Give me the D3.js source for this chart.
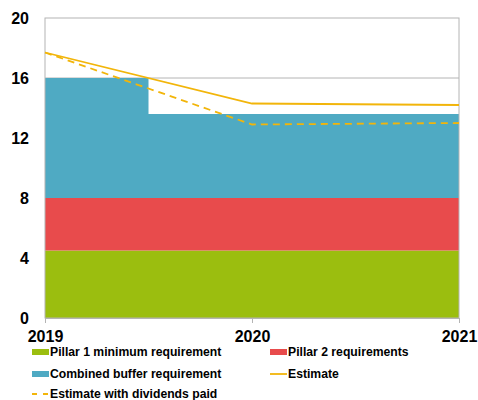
<!DOCTYPE html>
<html><head><meta charset="utf-8">
<script src="https://cdn.jsdelivr.net/npm/d3@7"></script>
<style>
body{margin:0;background:#fff;}
text{font-family:"Liberation Sans",Arial,sans-serif;font-weight:bold;fill:#000;}
</style></head>
<body><svg id="c" width="478" height="400"></svg>
<script>
const years = [2019, 2020, 2021];
const pillar1 = [4.5, 4.5, 4.5];
const pillar2 = [3.5, 3.5, 3.5];
const buffer = [8.0, 5.6, 5.6];
const estimate = [17.7, 14.3, 14.2];
const estimateDiv = [17.7, 12.9, 13.0];
const yTicks = [0, 4, 8, 12, 16, 20];
const seriesNames = ["Pillar 1 minimum requirement", "Pillar 2 requirements", "Combined buffer requirement", "Estimate", "Estimate with dividends paid"];
const colors = {p1:"#9bbe0f", p2:"#e84b4c", buf:"#4faac3", est:"#f2b50a"};

const svg = d3.select("#c");
const L=45, R=459, T=18, B=318;
const x = d3.scaleLinear().domain([2019,2021]).range([L,R]);
const y = d3.scaleLinear().domain([0,20]).range([B,T]);

const rows = years.map((yr,i)=>({yr, p1:pillar1[i], p2:pillar2[i], buf:buffer[i]}));
const stack = d3.stack().keys(["p1","p2","buf"])(rows);

// gridlines
svg.append("g").selectAll("line").data(yTicks.filter(t=>t>0 && t<20)).join("line")
  .attr("x1",L).attr("x2",R).attr("y1",d=>y(d)).attr("y2",d=>y(d))
  .attr("stroke","#b4b4b4").attr("stroke-width",1);

const area = d3.area().curve(d3.curveStep)
  .x(d=>x(d.data.yr)).y0(d=>y(d[0])).y1(d=>y(d[1]));
svg.append("g").selectAll("path").data(stack).join("path")
  .attr("d",area).attr("fill",d=>colors[d.key]);

// border
svg.append("rect").attr("x",L).attr("y",T).attr("width",R-L).attr("height",B-T)
  .attr("fill","none").attr("stroke","#b4b4b4").attr("stroke-width",1);

const line = d3.line().x((d,i)=>x(years[i])).y(d=>y(d));
svg.append("path").attr("d",line(estimate)).attr("fill","none")
  .attr("stroke",colors.est).attr("stroke-width",1.8);
svg.append("path").attr("d",line(estimateDiv)).attr("fill","none")
  .attr("stroke",colors.est).attr("stroke-width",1.8).attr("stroke-dasharray","7,5");

// y axis labels
svg.append("g").selectAll("text").data(yTicks).join("text")
  .attr("x",29).attr("y",d=>y(d)).attr("dy","0.36em").attr("text-anchor","end")
  .attr("font-size",16).text(d=>d);

// x axis
const xAxis = d3.axisBottom(x).tickValues(years).tickFormat(d3.format("d")).tickSize(5);
const gx = svg.append("g").attr("transform",`translate(0,${B})`).call(xAxis);
gx.select(".domain").attr("stroke","#b4b4b4");
gx.selectAll(".tick line").attr("stroke","#b4b4b4");
gx.selectAll(".tick text").attr("font-size",16).attr("font-family","Liberation Sans, Arial, sans-serif")
  .attr("font-weight","bold").attr("fill","#000").attr("y",13);

// legend
const leg = [
  {n:seriesNames[0], t:"rect", c:colors.p1, x:32, y:352},
  {n:seriesNames[1], t:"rect", c:colors.p2, x:270, y:352},
  {n:seriesNames[2], t:"rect", c:colors.buf, x:32, y:374},
  {n:seriesNames[3], t:"line", c:colors.est, x:270, y:374},
  {n:seriesNames[4], t:"dash", c:colors.est, x:32, y:394}
];
const lg = svg.append("g").selectAll("g").data(leg).join("g")
  .attr("transform",d=>`translate(${d.x},${d.y})`);
lg.filter(d=>d.t==="rect").append("rect").attr("x",0).attr("y",-3).attr("width",17).attr("height",6).attr("fill",d=>d.c);
lg.filter(d=>d.t!=="rect").append("line").attr("x1",0).attr("x2",17).attr("y1",0).attr("y2",0)
  .attr("stroke",d=>d.c).attr("stroke-width",1.8).attr("stroke-dasharray",d=>d.t==="dash"?"5,6":null);
lg.append("text").attr("x",18).attr("y",0).attr("dy","0.36em").attr("font-size",12.2).text(d=>d.n);
</script></body></html>
